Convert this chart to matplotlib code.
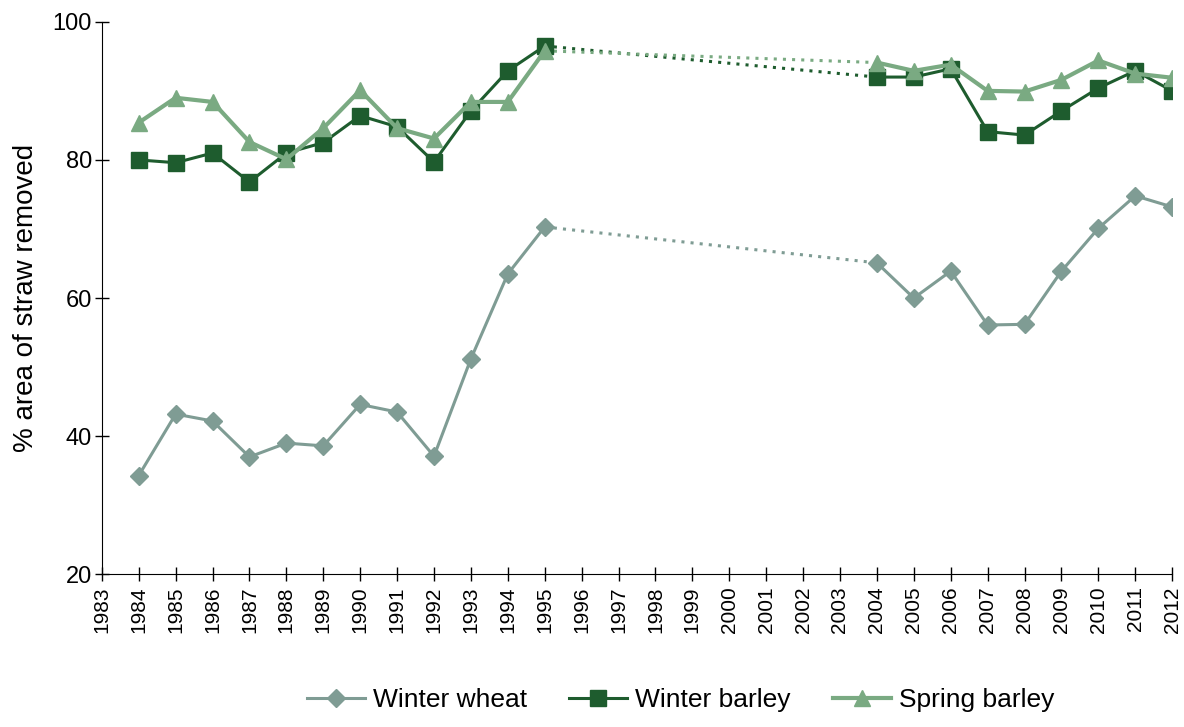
import numpy as np
from matplotlib import pyplot as plt

plt.rcParams['font.family'] = ['Liberation Sans', 'DejaVu Sans']

years = [1984, 1985, 1986, 1987, 1988, 1989, 1990, 1991, 1992, 1993, 1994, 1995,
         2004, 2005, 2006, 2007, 2008, 2009, 2010, 2011, 2012]
winter_wheat = [34.3, 43.2, 42.2, 37.0, 39.0, 38.6, 44.6, 43.5, 37.1, 51.2, 63.5, 70.3,
                65.1, 60.0, 63.9, 56.1, 56.2, 63.9, 70.1, 74.8, 73.2]
winter_barley = [80.0, 79.6, 81.0, 76.8, 81.0, 82.5, 86.4, 84.8, 79.7, 87.1, 92.9, 96.5,
                 92.0, 92.0, 93.2, 84.1, 83.6, 87.1, 90.4, 92.9, 90.0]
spring_barley = [85.4, 89.0, 88.4, 82.6, 80.1, 84.6, 90.1, 84.6, 83.1, 88.4, 88.4, 95.8,
                 94.1, 92.9, 93.8, 90.0, 89.9, 91.6, 94.4, 92.5, 91.9]
tick_years = list(range(1983, 2013))

series = [
    ("Winter wheat", winter_wheat, "#7f9c94", "D", 9, 2.2),
    ("Winter barley", winter_barley, "#1e5c2e", "s", 11, 2.2),
    ("Spring barley", spring_barley, "#7aaa82", "^", 12, 3.0),
]

fig = plt.figure(figsize=(11.84, 7.27), dpi=100)
ax = fig.add_axes([0.086, 0.21, 0.904, 0.76])

years = np.array(years)
gap = np.where(np.diff(years) > 1)[0][0] + 1

for name, vals, col, mk, ms, lw in series:
    vals = np.array(vals)
    ax.plot(years[gap - 1:gap + 1], vals[gap - 1:gap + 1], color=col, lw=2.2,
            ls=(0, (1, 2)), zorder=2)
    ax.plot(years[:gap], vals[:gap], color=col, marker=mk, ms=ms, lw=lw, label=name, zorder=3)
    ax.plot(years[gap:], vals[gap:], color=col, marker=mk, ms=ms, lw=lw, zorder=3)

ax.set_xlim(1983, 2012)
ax.set_ylim(20, 100)
ax.set_yticks([20, 40, 60, 80, 100])
ax.set_xticks(tick_years)
ax.set_xticklabels([str(y) for y in tick_years], rotation=90)
ax.tick_params(axis='both', direction='inout', length=10, width=1, labelsize=15)
ax.tick_params(axis='y', labelsize=17, pad=2)
ax.spines['top'].set_visible(False)
ax.spines['right'].set_visible(False)
ax.set_ylabel("% area of straw removed", fontsize=20, labelpad=10)

fig.legend(loc='lower center', ncol=3, frameon=False, fontsize=19,
           bbox_to_anchor=(0.575, -0.012), handlelength=2.2, handletextpad=0.3,
           columnspacing=1.6)

fig.savefig("out.png", dpi=100)
